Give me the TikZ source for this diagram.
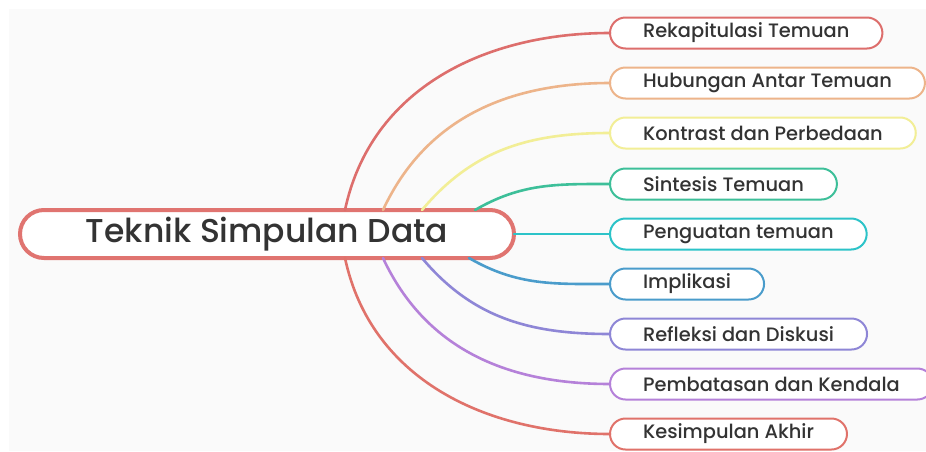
\documentclass[tikz,border=0pt]{standalone}
\usepackage{fontspec}
\setmainfont{Poppins}[UprightFont=* Medium]
\usetikzlibrary{calc}
\definecolor{txt}{HTML}{333333}
\definecolor{bgc}{HTML}{FAFAFA}
\definecolor{cRoot}{HTML}{E07470}
\definecolor{cRek}{HTML}{DD6E6C}
\definecolor{cHub}{HTML}{EDB48A}
\definecolor{cKon}{HTML}{F2EE96}
\definecolor{cSin}{HTML}{3DBF99}
\definecolor{cPen}{HTML}{2CC3C8}
\definecolor{cImp}{HTML}{4A9CCB}
\definecolor{cRef}{HTML}{8E86D6}
\definecolor{cPem}{HTML}{B581D9}
\definecolor{cKes}{HTML}{E0726A}
\tikzset{
  rootbox/.style={draw=cRoot, fill=white, line width=2pt, rounded corners=12pt,
    minimum width=247pt, minimum height=24pt, outer sep=0pt, text=txt,
    font=\fontsize{16.5}{19}\selectfont},
  leaf/.style={fill=white, line width=1pt, rounded corners=7.75pt, anchor=west,
    minimum height=15.5pt, inner xsep=16.5pt, inner ysep=0pt, outer sep=0pt,
    text=txt, font=\fontsize{9.7}{11}\selectfont},
  branch/.style={line width=1.3pt, line cap=round},
}
\begin{document}
\begin{tikzpicture}[x=0.5pt,y=-0.5pt]
  \useasboundingbox (0,0) rectangle (926,451);
  \fill[bgc] (9,9) rectangle (926,451);

  % centre
  \node[rootbox] (root) at (267,234) {Teknik Simpulan Data};

  % leaves
  \node[leaf, draw=cRek] (rek) at (610,33) {Rekapitulasi Temuan};
  \node[leaf, draw=cHub] (hub) at (610,83) {Hubungan Antar Temuan};
  \node[leaf, draw=cKon] (kon) at (610,133) {Kontrast dan Perbedaan};
  \node[leaf, draw=cSin] (sin) at (610,184) {Sintesis Temuan};
  \node[leaf, draw=cPen] (pen) at (610,234) {Penguatan temuan};
  \node[leaf, draw=cImp] (imp) at (610,284) {Implikasi};
  \node[leaf, draw=cRef] (ref) at (610,334) {Refleksi dan Diskusi};
  \node[leaf, draw=cPem] (pem) at (610,384) {Pembatasan dan Kendala};
  \node[leaf, draw=cKes] (kes) at (610,434) {Kesimpulan Akhir};

  % branches
  \draw[branch, cRek] ($(root.north west)+(325,0)$) to[out=78,in=180] (rek.west);
  \draw[branch, cHub] ($(root.north west)+(363,0)$) to[out=65,in=180] (hub.west);
  \draw[branch, cKon] ($(root.north west)+(402,0)$) to[out=50,in=180] (kon.west);
  \draw[branch, cSin] ($(root.north west)+(455,0)$) to[out=30,in=180] (sin.west);
  \draw[branch, cPen] (root.east) -- (pen.west);
  \draw[branch, cImp] ($(root.south west)+(449,0)$) to[out=-30,in=180] (imp.west);
  \draw[branch, cRef] ($(root.south west)+(402,0)$) to[out=-50,in=180] (ref.west);
  \draw[branch, cPem] ($(root.south west)+(363,0)$) to[out=-65,in=180] (pem.west);
  \draw[branch, cKes] ($(root.south west)+(325,0)$) to[out=-78,in=180] (kes.west);
\end{tikzpicture}
\end{document}
